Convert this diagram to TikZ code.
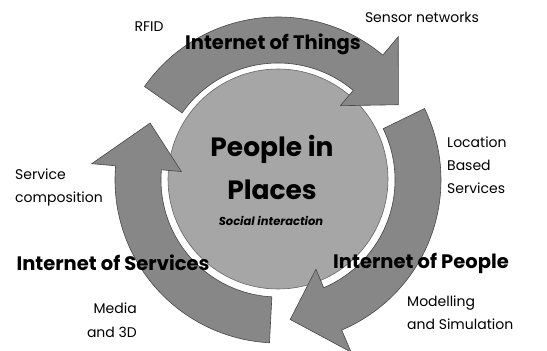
\documentclass[tikz,border=0pt]{standalone}
\usepackage{fontspec}
\setmainfont{Poppins}
\begin{document}
\begin{tikzpicture}[x=1pt,y=1pt,
  ringarrow/.style={fill=black!47, draw=black!72, line width=0.6pt},
  hub/.style={circle, fill=black!35, draw=black!60, line width=0.6pt, minimum size=220pt, inner sep=0pt},
  lbl/.style={font=\fontsize{14}{23}\selectfont, inner sep=0pt},
  big/.style={font=\fontsize{19.5}{22}\selectfont\bfseries, inner sep=0pt},
  centre/.style={font=\fontsize{26.5}{30}\selectfont\bfseries, inner sep=0pt}]
\useasboundingbox (0,0) rectangle (547,351);
\coordinate (c) at (278,171);
% hub
\node[hub] (hub) at (278,172) {};
% Internet of Things arrow (top)
\draw[ringarrow] ([shift={(145:163)}]c) arc[start angle=145, end angle=50, radius=163]
  -- ([shift={(50:187)}]c) -- ([shift={(32:142)}]c) -- ([shift={(50:97)}]c)
  -- ([shift={(50:117)}]c) arc[start angle=50, end angle=145, radius=117] -- cycle;
% Internet of People arrow (right)
\draw[ringarrow] ([shift={(26:163)}]c) arc[start angle=26, end angle=-67, radius=163]
  -- ([shift={(-67:187)}]c) -- ([shift={(-85:140)}]c) -- ([shift={(-67:97)}]c)
  -- ([shift={(-67:117)}]c) arc[start angle=-67, end angle=26, radius=117] -- cycle;
% Internet of Services arrow (left)
\draw[ringarrow] ([shift={(267:163)}]c) arc[start angle=267, end angle=175, radius=163]
  -- ([shift={(175:187)}]c) -- ([shift={(156:140)}]c) -- ([shift={(175:97)}]c)
  -- ([shift={(175:117)}]c) arc[start angle=175, end angle=267, radius=117] -- cycle;
% centre texts
\node[centre] (pin) at (272,202) {People in};
\node[centre] (pla) at (272,161) {Places};
\node[font=\fontsize{11.5}{12}\selectfont\bfseries\itshape, inner sep=0pt] (soc) at (271,130) {Social interaction};
% ring titles
\node[big] (iot) at (273,307) {Internet of Things};
\node[big] (ios) at (113,88) {Internet of Services};
\node[big] (iop) at (421,88) {Internet of People};
% labels
\node[lbl] (rfid) at (149,324) {RFID};
\node[lbl] (sens) at (422,334) {Sensor networks};
\node[lbl, anchor=west, align=left] (lbs) at (447,186) {Location\\Based\\Services};
\node[lbl, anchor=west, align=left] (sc) at (15,164) {Service\\composition};
\node[lbl, anchor=east, align=right, font=\fontsize{14}{24}\selectfont] (med) at (137,31) {Media\\and 3D};
\node[lbl, anchor=west, align=left] (mod) at (407,38) {Modelling\\and Simulation};
\end{tikzpicture}
\end{document}
